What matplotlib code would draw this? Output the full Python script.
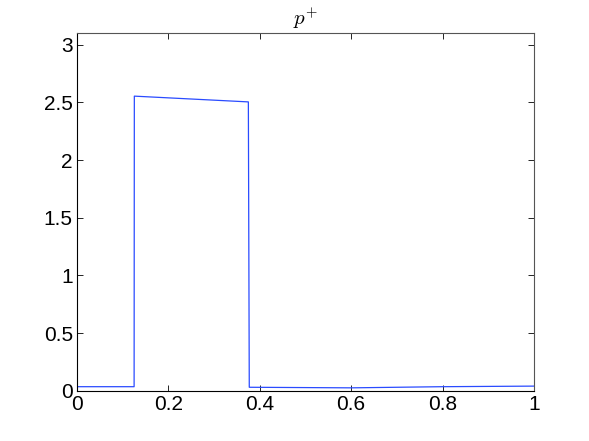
import matplotlib
matplotlib.use("Agg")
import matplotlib.pyplot as plt

#-------data-------
x = [0.0, 0.125, 0.1255, 0.375, 0.377, 0.6, 0.8, 1.0]
p = [0.035, 0.035, 2.555, 2.505, 0.03, 0.025, 0.035, 0.04]

xticks = [0, 0.2, 0.4, 0.6, 0.8, 1]
xticklabels = ["0", "0.2", "0.4", "0.6", "0.8", "1"]
yticks = [0, 0.5, 1, 1.5, 2, 2.5, 3]
yticklabels = ["0", "0.5", "1", "1.5", "2", "2.5", "3"]

plt.rcParams["mathtext.fontset"] = "cm"
plt.rcParams["font.family"] = ["Liberation Sans", "DejaVu Sans"]

fig = plt.figure(figsize=(5.89, 4.41), dpi=100)
ax = fig.add_axes([0.1307, 0.114, 0.7759, 0.8105])

ax.plot(x, p, color="#2a4bff", linewidth=0.9)

ax.set_xlim(0, 1)
ax.set_ylim(0, 3.1)
ax.set_xticks(xticks)
ax.set_xticklabels(xticklabels)
ax.set_yticks(yticks)
ax.set_yticklabels(yticklabels)
ax.tick_params(direction="in", top=True, right=True, labelsize=15, length=4, width=0.6, pad=3)

for side in ["left", "bottom"]:
    ax.spines[side].set_color("black")
for side in ["top", "right"]:
    ax.spines[side].set_color("#555555")
for s in ax.spines.values():
    s.set_linewidth(0.8)

ax.set_title(r"$p^{+}$", fontsize=15, pad=6)

fig.savefig("out.png", dpi=100)
